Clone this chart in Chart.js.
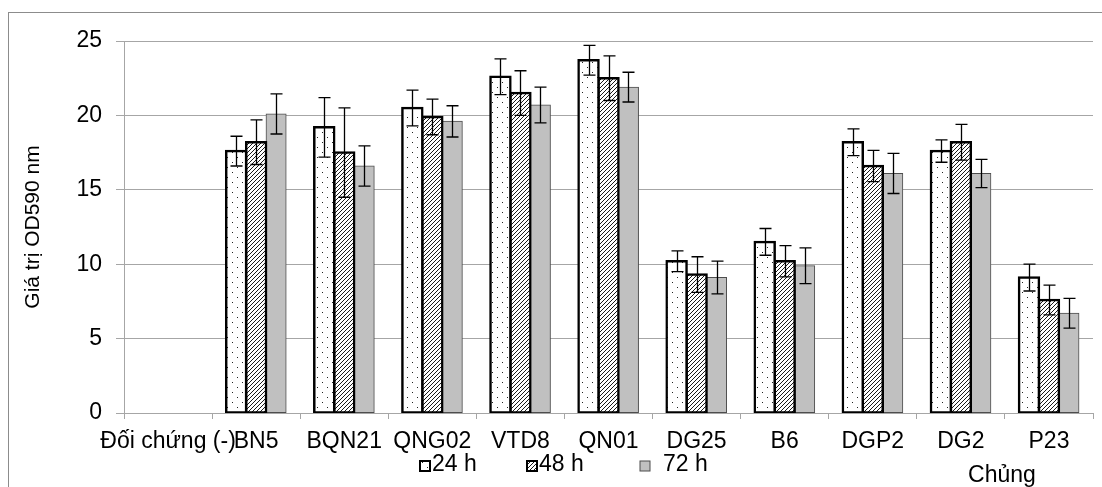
<!DOCTYPE html>
<html>
<head>
<meta charset="utf-8">
<script src="https://cdn.jsdelivr.net/npm/chart.js@4/dist/chart.umd.min.js"></script>
<style>
  body { margin: 0; background: #fff; }
  #wrap { width: 1102px; height: 487px; }
</style>
</head>
<body>
<div id="wrap"><canvas id="chart" width="1102" height="487"></canvas></div>
<script>
const categories = ['Đối chứng (-)', 'BN5', 'BQN21', 'QNG02', 'VTD8', 'QN01', 'DG25', 'B6', 'DGP2', 'DG2', 'P23'];
const seriesLabels = ['24 h', '48 h', '72 h'];

const mean24 = [null, 17.6, 19.2, 20.5, 22.6, 23.7, 10.2, 11.5, 18.2, 17.6, 9.1];
const mean48 = [null, 18.2, 17.5, 19.9, 21.5, 22.5, 9.3, 10.2, 16.6, 18.2, 7.6];
const mean72 = [null, 20.1, 16.6, 19.6, 20.7, 21.9, 9.1, 9.9, 16.1, 16.1, 6.7];

const err24 = [null, 1.0, 2.0, 1.2, 1.2, 1.0, 0.7, 0.9, 0.9, 0.75, 0.9];
const err48 = [null, 1.5, 3.0, 1.2, 1.5, 1.5, 1.2, 1.05, 1.05, 1.2, 1.0];
const err72 = [null, 1.35, 1.35, 1.05, 1.2, 1.0, 1.1, 1.2, 1.35, 0.95, 1.0];

const yTicks = [0, 5, 10, 15, 20, 25];
const yTitle = 'Giá trị OD590 nm';
const xTitle = 'Chủng';

const errors = [err24, err48, err72];

// fill patterns
function dotPattern() {
    const c = document.createElement('canvas');
    c.width = 10; c.height = 10;
    const g = c.getContext('2d');
    g.fillStyle = '#fff';
    g.fillRect(0, 0, 10, 10);
    g.fillStyle = '#222';
    g.fillRect(2, 2, 1, 1);
    g.fillRect(7, 7, 1, 1);
    return g.createPattern(c, 'repeat');
}

function hatchPattern() {
    const c = document.createElement('canvas');
    c.width = 4; c.height = 4;
    const g = c.getContext('2d');
    g.fillStyle = '#fff';
    g.fillRect(0, 0, 4, 4);
    g.fillStyle = '#1a1a1a';
    for (let i = 0; i < 4; i++) g.fillRect(3 - i, i, 1, 1);
    return g.createPattern(c, 'repeat');
}

const dots = dotPattern();
const hatch = hatchPattern();
const fills = [dots, hatch, '#c0c0c0'];
const borders = ['#000', '#000', '#4d4d4d'];
const borderWidths = [2.5, 2.5, 1];

const errorBars = {
    id: 'errorBars',
    afterDatasetsDraw(chart) {
        const ctx = chart.ctx;
        const y = chart.scales.y;
        ctx.save();
        ctx.strokeStyle = '#000';
        ctx.lineWidth = 1.3;
        chart.data.datasets.forEach((ds, d) => {
            const meta = chart.getDatasetMeta(d);
            meta.data.forEach((bar, i) => {
                const v = ds.data[i];
                const e = errors[d][i];
                if (v == null || e == null) return;
                const top = y.getPixelForValue(v + e);
                const bot = y.getPixelForValue(v - e);
                const x = Math.round(bar.x) + 0.5;
                ctx.beginPath();
                ctx.moveTo(x, top); ctx.lineTo(x, bot);
                ctx.moveTo(x - 6, top); ctx.lineTo(x + 6, top);
                ctx.moveTo(x - 6, bot); ctx.lineTo(x + 6, bot);
                ctx.stroke();
            });
        });
        ctx.restore();
    }
};

// legend drawn by hand (Excel-like placement below the axis) + axis title "Chủng"
const extras = {
    id: 'extras',
    beforeDraw(chart) {
        const ctx = chart.ctx;
        ctx.save();
        ctx.strokeStyle = '#8c8c8c';
        ctx.lineWidth = 1;
        ctx.strokeRect(8.5, 12.5, 1200, 600);
        ctx.restore();
    },
    afterDraw(chart) {
        const ctx = chart.ctx;
        const boxX = [420, 527, 640];
        const textGap = [12, 12, 23];
        const cy = 466;
        ctx.save();
        ctx.font = '23px "Liberation Sans", Arial, sans-serif';
        ctx.textBaseline = 'middle';
        chart.data.datasets.forEach((ds, d) => {
            const x = boxX[d];
            ctx.fillStyle = fills[d];
            ctx.fillRect(x, cy - 5, 10, 10);
            ctx.strokeStyle = borders[d];
            ctx.lineWidth = d < 2 ? 2 : 1;
            ctx.strokeRect(x, cy - 5, 10, 10);
            ctx.fillStyle = '#000';
            ctx.textAlign = 'left';
            ctx.fillText(ds.label, x + textGap[d], cy - 1);
        });
        ctx.fillStyle = '#000';
        ctx.textAlign = 'center';
        ctx.textBaseline = 'alphabetic';
        ctx.fillText(xTitle, 1002, 482);
        ctx.restore();
    }
};

new Chart(document.getElementById('chart'), {
    type: 'bar',
    data: {
        labels: categories,
        datasets: [mean24, mean48, mean72].map((vals, d) => ({
            label: seriesLabels[d],
            data: vals,
            backgroundColor: fills[d],
            borderColor: borders[d],
            borderWidth: borderWidths[d],
            borderSkipped: false,
            inflateAmount: borderWidths[d] / 2,
            categoryPercentage: 0.68,
            barPercentage: 1.0
        }))
    },
    options: {
        responsive: false,
        animation: false,
        devicePixelRatio: 1,
        layout: { padding: { left: 14, top: 41, right: 9, bottom: 0 } },
        plugins: {
            legend: { display: false },
            tooltip: { enabled: false }
        },
        scales: {
            x: {
                offset: true,
                grid: { drawOnChartArea: false, color: '#a6a6a6', tickLength: 6 },
                border: { color: '#a6a6a6' },
                ticks: {
                    color: '#000',
                    font: { family: '"Liberation Sans", Arial, sans-serif', size: 23 },
                    padding: 9,
                    autoSkip: false,
                    minRotation: 0,
                    maxRotation: 0
                },
                afterFit(scale) { scale.height = 74; }
            },
            y: {
                min: 0,
                max: 25,
                afterBuildTicks(scale) { scale.ticks = yTicks.map(v => ({ value: v })); },
                grid: { color: '#a6a6a6', tickLength: 8 },
                border: { color: '#a6a6a6' },
                ticks: {
                    color: '#000',
                    font: { family: '"Liberation Sans", Arial, sans-serif', size: 23 },
                    padding: 14
                },
                title: {
                    display: true,
                    text: yTitle,
                    color: '#000',
                    font: { family: '"Liberation Sans", Arial, sans-serif', size: 21 },
                    padding: { top: 7, bottom: 7 }
                },
                afterFit(scale) { scale.width = 110; }
            }
        }
    },
    plugins: [errorBars, extras]
});
</script>
</body>
</html>
